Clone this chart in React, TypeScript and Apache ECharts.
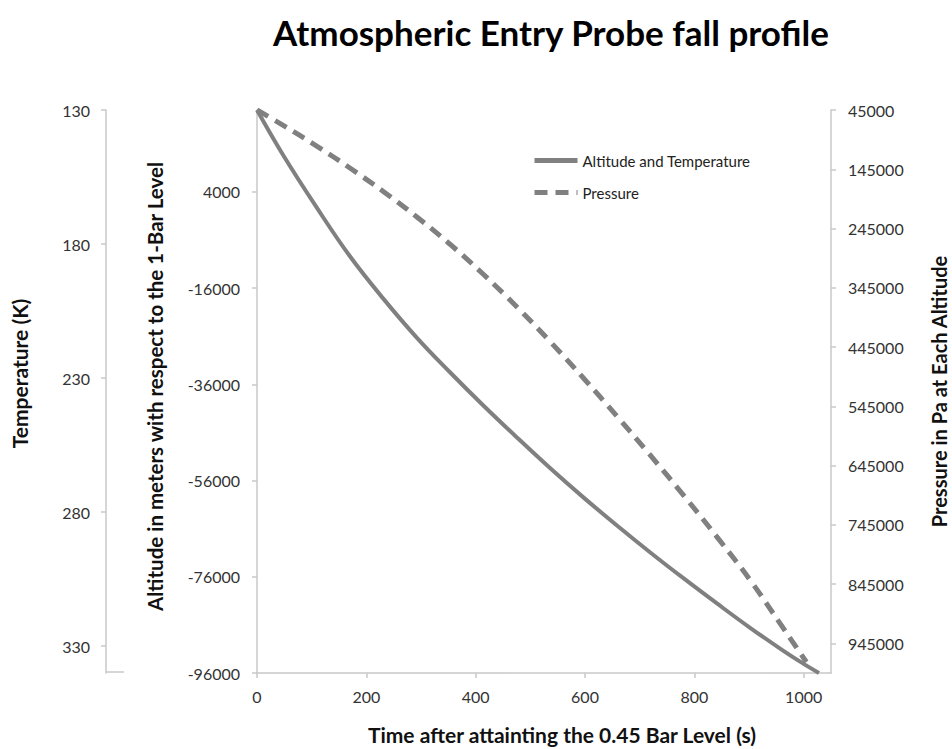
import React, { useEffect, useRef } from "react";
import * as echarts from "echarts";

const titleText = "Atmospheric Entry Probe fall profile";
const xAxisTitle = "Time after attainting the 0.45 Bar Level (s)";
const altAxisTitle = "Altitude in meters with respect to the 1-Bar Level";
const tempAxisTitle = "Temperature (K)";
const presAxisTitle = "Pressure in Pa at Each Altitude";

const seriesNames = ["Altitude and Temperature", "Pressure"];

const xTicks = [0, 200, 400, 600, 800, 1000];
const altTicks = [-96000, -76000, -56000, -36000, -16000, 4000];
const tempTicks = [130, 180, 230, 280, 330];
const presTicks = [45000, 145000, 245000, 345000, 445000, 545000, 645000, 745000, 845000, 945000];

const altTime = [0, 48, 110, 170, 231, 293, 353, 414, 476, 536, 597, 659, 720, 780, 842, 902, 963, 1000, 1028];
const altitude = [21000, 11600, 600, -9400, -18200, -26400, -33500, -40400, -47100, -53400, -59500, -65400, -71000, -76300, -81600, -86600, -91400, -94100, -96000];

const presTime = [0, 48, 110, 170, 231, 293, 353, 414, 476, 536, 597, 659, 719, 780, 842, 902, 963, 994, 1005];
const pressure = [45000, 70900, 106300, 142900, 182500, 225900, 271500, 322100, 377900, 435500, 497200, 562300, 627100, 694800, 766100, 838100, 919800, 961700, 976500];

const FONT = "Lato, 'Open Sans', sans-serif";
const AXIS_COLOR = "#c8c8c8";
const LABEL_COLOR = "#333333";
const LINE_COLOR = "#808080";

const plain = (v: number) => String(v);

export default function App() {
  const ref = useRef<HTMLDivElement>(null);

  useEffect(() => {
    if (!ref.current) return;
    const chart = echarts.init(ref.current, null, { renderer: "svg" });

    const axisCommon = {
      axisLine: { show: true, onZero: false, lineStyle: { color: AXIS_COLOR, width: 1.5 } },
      axisTick: { show: true, inside: false, length: 5, lineStyle: { color: AXIS_COLOR, width: 1.5 } },
      splitLine: { show: false },
      axisLabel: { color: LABEL_COLOR, fontSize: 16, fontFamily: FONT, formatter: plain },
      nameTextStyle: { color: "#111", fontSize: 21, fontWeight: "bold", fontFamily: FONT },
    };

    const option: any = {
      animation: false,
      backgroundColor: "#ffffff",
      title: {
        text: titleText,
        left: 546,
        top: 9,
        textAlign: "center",
        textStyle: { color: "#000", fontSize: 35, fontWeight: "bold", fontFamily: FONT },
      },
      legend: {
        orient: "vertical",
        left: 532,
        top: 153,
        padding: 0,
        itemWidth: 43,
        itemHeight: 14,
        itemGap: 17,
        itemStyle: { opacity: 0 },
        lineStyle: { width: 5 },
        textStyle: { color: "#222", fontSize: 15, fontFamily: FONT },
        data: seriesNames,
      },
      grid: {
        left: 257,
        top: 110,
        right: 121,
        bottom: 76,
        containLabel: false,
        outerBoundsMode: "none",
      },
      xAxis: {
        type: "value",
        min: 0,
        max: 1050,
        ...axisCommon,
        axisLabel: { ...axisCommon.axisLabel, margin: 15, customValues: xTicks },
        axisTick: { ...axisCommon.axisTick, customValues: xTicks },
        name: xAxisTitle,
        nameLocation: "middle",
        nameGap: 51,
        nameTextStyle: { ...axisCommon.nameTextStyle, padding: [0, 0, 0, 36] },
      },
      yAxis: [
        {
          type: "value",
          position: "left",
          min: -96000,
          max: 21000,
          ...axisCommon,
          axisLabel: { ...axisCommon.axisLabel, margin: 17, customValues: altTicks },
          axisTick: { ...axisCommon.axisTick, customValues: altTicks },
          name: altAxisTitle,
          nameLocation: "middle",
          nameRotate: 90,
          nameGap: 92,
          nameTextStyle: { ...axisCommon.nameTextStyle, fontSize: 20.5, padding: [0, 0, 0, 10] },
        },
        {
          type: "value",
          position: "left",
          offset: 151,
          min: 130,
          max: 340,
          inverse: true,
          ...axisCommon,
          axisLabel: { ...axisCommon.axisLabel, margin: 16, customValues: tempTicks },
          axisTick: { ...axisCommon.axisTick, customValues: tempTicks },
          name: tempAxisTitle,
          nameLocation: "middle",
          nameRotate: 90,
          nameGap: 76,
          nameTextStyle: { ...axisCommon.nameTextStyle, padding: [0, 0, 0, 36] },
        },
        {
          type: "value",
          position: "right",
          min: 45000,
          max: 995000,
          inverse: true,
          ...axisCommon,
          axisLabel: { ...axisCommon.axisLabel, margin: 17, customValues: presTicks },
          axisTick: { ...axisCommon.axisTick, customValues: presTicks },
          name: presAxisTitle,
          nameLocation: "middle",
          nameRotate: 90,
          nameGap: 98,
          nameTextStyle: { ...axisCommon.nameTextStyle, fontSize: 20 },
        },
      ],
      series: [
        {
          name: seriesNames[0],
          type: "line",
          yAxisIndex: 0,
          data: altTime.map((t, i) => [t, altitude[i]]),
          symbol: "none",
          smooth: 0.4,
          lineStyle: { color: LINE_COLOR, width: 4 },
          itemStyle: { color: LINE_COLOR },
        },
        {
          name: seriesNames[1],
          type: "line",
          yAxisIndex: 2,
          data: presTime.map((t, i) => [t, pressure[i]]),
          symbol: "none",
          smooth: 0.4,
          lineStyle: { color: LINE_COLOR, width: 5, type: [13, 8] },
          itemStyle: { color: LINE_COLOR },
        },
      ],
      graphic: [
        {
          type: "line",
          shape: { x1: 106, y1: 672, x2: 124, y2: 672 },
          style: { stroke: AXIS_COLOR, lineWidth: 1.5 },
        },
      ],
    };

    chart.setOption(option);
    return () => chart.dispose();
  }, []);

  return (
    <div
      ref={ref}
      style={{ position: "fixed", left: 0, top: 0, width: 952, height: 749, background: "#fff" }}
    />
  );
}
